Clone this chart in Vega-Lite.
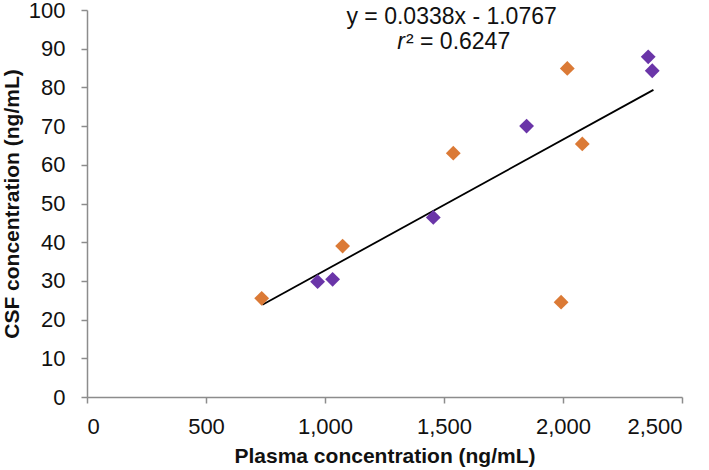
{
  "$schema": "https://vega.github.io/schema/vega-lite/v6.json",
  "width": 595,
  "height": 387,
  "autosize": {"type": "none"},
  "padding": {"left": 87, "top": 10, "right": 27, "bottom": 73},
  "background": "white",
  "config": {
    "view": {"stroke": null},
    "font": "Liberation Sans",
    "axis": {
      "grid": false,
      "domainColor": "#8c8c8c",
      "tickColor": "#8c8c8c",
      "domainWidth": 1.5,
      "tickWidth": 1.5,
      "tickSize": 6,
      "labelFont": "Liberation Sans",
      "labelFontSize": 22,
      "labelColor": "#111111",
      "labelOverlap": false,
      "labelBound": false,
      "titleFont": "Liberation Sans",
      "titleFontSize": 21,
      "titleFontWeight": "bold",
      "titleColor": "#111111"
    }
  },
  "datasets": {
    "pts": [
      {"plasma": 734, "csf": 25.5, "group": "A"},
      {"plasma": 1074, "csf": 39.0, "group": "A"},
      {"plasma": 1539, "csf": 63.0, "group": "A"},
      {"plasma": 2018, "csf": 84.9, "group": "A"},
      {"plasma": 2081, "csf": 65.4, "group": "A"},
      {"plasma": 1992, "csf": 24.5, "group": "A"},
      {"plasma": 969, "csf": 29.8, "group": "B"},
      {"plasma": 1032, "csf": 30.4, "group": "B"},
      {"plasma": 1455, "csf": 46.4, "group": "B"},
      {"plasma": 1847, "csf": 70.0, "group": "B"},
      {"plasma": 2358, "csf": 87.9, "group": "B"},
      {"plasma": 2375, "csf": 84.3, "group": "B"}
    ],
    "fit": [
      {"plasma": 737, "csf": 23.83},
      {"plasma": 2380, "csf": 79.37}
    ],
    "eq": [
      {"plasma": 1532, "csf": 98.3, "label": "y = 0.0338x - 1.0767"}
    ],
    "r": [
      {"plasma": 1336, "csf": 91.8, "label": "r"}
    ],
    "r2": [
      {"plasma": 1336, "csf": 91.8, "label": "² = 0.6247"}
    ]
  },
  "encoding": {
    "x": {"field": "plasma", "type": "quantitative", "scale": {"domain": [0, 2500], "nice": false},
          "axis": {"title": "Plasma concentration (ng/mL)", "values": [0, 500, 1000, 1500, 2000, 2500], "format": ",d", "labelPadding": 13, "titlePadding": 8}},
    "y": {"field": "csf", "type": "quantitative", "scale": {"domain": [0, 100], "nice": false},
          "axis": {"title": "CSF concentration (ng/mL)", "values": [0, 10, 20, 30, 40, 50, 60, 70, 80, 90, 100], "labelPadding": 16, "titlePadding": 6}}
  },
  "layer": [
    {
      "data": {"name": "fit"},
      "mark": {"type": "line", "color": "#000000", "strokeWidth": 1.8}
    },
    {
      "data": {"name": "pts"},
      "mark": {"type": "point", "shape": "diamond", "filled": true, "opacity": 1, "size": 220},
      "encoding": {
        "color": {"field": "group", "type": "nominal", "legend": null,
                  "scale": {"domain": ["A", "B"], "range": ["#DB7A36", "#6A35A8"]}}
      }
    },
    {
      "data": {"name": "eq"},
      "mark": {"type": "text", "fontSize": 23, "align": "center", "baseline": "middle", "color": "#111111"},
      "encoding": {"text": {"field": "label"}}
    },
    {
      "data": {"name": "r"},
      "mark": {"type": "text", "fontSize": 23, "fontStyle": "italic", "align": "right", "baseline": "middle", "color": "#111111"},
      "encoding": {"text": {"field": "label"}}
    },
    {
      "data": {"name": "r2"},
      "mark": {"type": "text", "fontSize": 23, "align": "left", "baseline": "middle", "color": "#111111", "dx": 1},
      "encoding": {"text": {"field": "label"}}
    }
  ]
}
